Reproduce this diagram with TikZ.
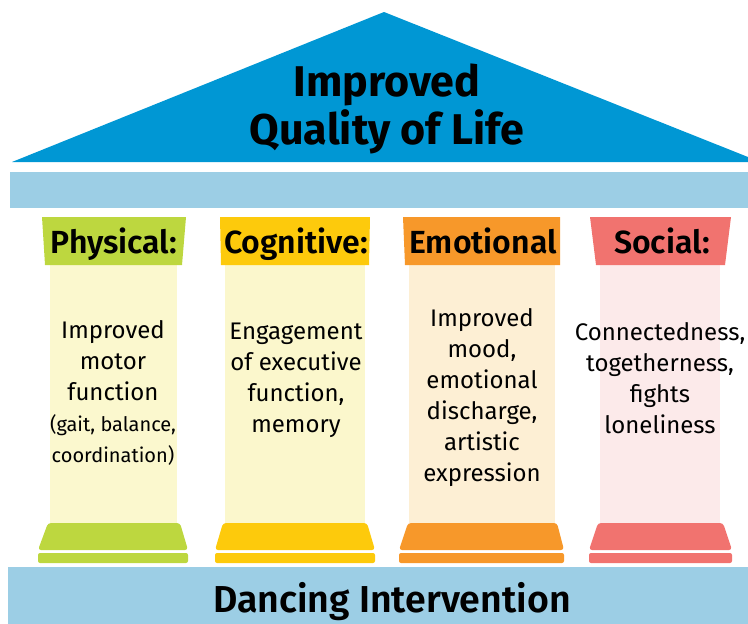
\documentclass[tikz,border=0pt]{standalone}
\usepackage{fontspec}
\setmainfont{Fira Sans}
\newfontfamily\headfont{Fira Sans SemiBold}
\usepackage{xcolor}
\usepackage{tikz}
\usetikzlibrary{positioning}

\definecolor{roofblue}{HTML}{0097D4}
\definecolor{bandblue}{HTML}{9CCEE5}
\definecolor{physgreen}{HTML}{BDD73F}
\definecolor{cogyellow}{HTML}{FDCA0C}
\definecolor{emoorange}{HTML}{F7982A}
\definecolor{socred}{HTML}{F1736F}
\definecolor{physlight}{HTML}{FBF8CE}
\definecolor{coglight}{HTML}{FBF7CC}
\definecolor{emolight}{HTML}{FDEFD4}
\definecolor{soclight}{HTML}{FCEAEA}
\newcommand\smalltxt{\fontsize{20}{28}\selectfont}

\begin{document}
\begin{tikzpicture}[x=1pt,y=-1pt,
  head/.style={anchor=base, font=\headfont\fontsize{32}{36}\selectfont},
  body/.style={align=center, font=\fontsize{24}{31}\selectfont}]
  \useasboundingbox (0,0) rectangle (748,624);
  % roof and beam
  \fill[roofblue] (12,162) -- (384,12) -- (748,157) -- (748,162) -- cycle;
  \fill[bandblue] (10,172) rectangle (748,208);
  \node[font=\bfseries\fontsize{43}{48}\selectfont, align=center] (Title) at (387,109) {Improved\\Quality of Life};

  % shafts
  \fill[physlight] (50,265) rectangle (177,523);
  \fill[coglight] (225,265) rectangle (365,523);
  \fill[emolight] (409,265) rectangle (555,523);
  \fill[soclight] (600,265) rectangle (720,523);

  % capitals
  \fill[physgreen] (42,217) -- (186,217) -- (182,265) -- (45,265) -- cycle;
  \fill[cogyellow] (220,217) -- (370,217) -- (369,265) -- (221,265) -- cycle;
  \fill[emoorange] (403,217) -- (560,217) -- (560,265) -- (405,265) -- cycle;
  \fill[socred] (590,217) -- (731,217) -- (725,265) -- (596,265) -- cycle;
  \node[head] (Phys) at (114,253) {Physical:};
  \node[head] (Cog) at (296,253) {Cognitive:};
  \node[head] (Emo) at (483,253) {Emotional};
  \node[head] (Soc) at (662,253) {Social:};

  % texts
  \node[body] (PhysTxt) at (113,393) {Improved\\motor\\function\\\smalltxt (gait, balance,\\\smalltxt coordination)};
  \node[body] (CogTxt) at (296,380) {Engagement\\of executive\\function,\\memory};
  \node[body] (EmoTxt) at (482,398) {Improved\\mood,\\emotional\\discharge,\\artistic\\expression};
  \node[body] (SocTxt) at (660,378) {Connectedness,\\togetherness,\\fights\\loneliness};

  % bases
  \fill[physgreen, rounded corners=3] (48,523) -- (180,523) -- (188,550) -- (38,550) -- cycle;
  \fill[physgreen, rounded corners=2] (38,553) rectangle (188,563);
  \fill[cogyellow, rounded corners=3] (223,523) -- (367,523) -- (375,550) -- (215,550) -- cycle;
  \fill[cogyellow, rounded corners=2] (215,553) rectangle (375,563);
  \fill[emoorange, rounded corners=3] (408,523) -- (557,523) -- (564,550) -- (399,550) -- cycle;
  \fill[emoorange, rounded corners=2] (399,553) rectangle (564,563);
  \fill[socred, rounded corners=3] (598,523) -- (723,523) -- (732,550) -- (589,550) -- cycle;
  \fill[socred, rounded corners=2] (589,553) rectangle (732,563);

  % ground
  \fill[bandblue] (8,567) rectangle (748,624);
  \node[anchor=base, font=\headfont\fontsize{37.5}{40}\selectfont] (Dance) at (392,612) {Dancing Intervention};
\end{tikzpicture}
\end{document}
